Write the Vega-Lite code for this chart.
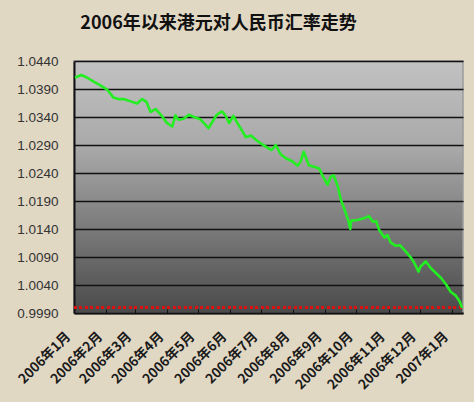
{
  "$schema": "https://vega.github.io/schema/vega-lite/v6.json",
  "width": 389,
  "height": 252,
  "autosize": "none",
  "padding": {"left": 74, "top": 61, "right": 11, "bottom": 89},
  "background": "#E1D8C4",
  "title": {
    "text": "2006年以来港元对人民币汇率走势",
    "font": "Noto Sans CJK SC",
    "fontSize": 18,
    "fontWeight": "bold",
    "color": "#111111",
    "anchor": "middle",
    "dx": -50,
    "offset": 21
  },
  "config": {
    "view": {
      "fill": {
        "gradient": "linear",
        "x1": 0, "y1": 0, "x2": 0, "y2": 1,
        "stops": [
          {"offset": 0, "color": "#C2C2C2"},
          {"offset": 0.35, "color": "#A8A8A8"},
          {"offset": 1, "color": "#4A4A4A"}
        ]
      },
      "stroke": "#9C9C9C",
      "strokeWidth": 1.5
    }
  },
  "data": {
    "values": [
      {"date": "2006-01-02", "rate": 1.0410},
      {"date": "2006-01-04", "rate": 1.0412},
      {"date": "2006-01-08", "rate": 1.0415},
      {"date": "2006-01-13", "rate": 1.0411},
      {"date": "2006-01-20", "rate": 1.0403},
      {"date": "2006-01-26", "rate": 1.0397},
      {"date": "2006-02-02", "rate": 1.0389},
      {"date": "2006-02-08", "rate": 1.0375},
      {"date": "2006-02-13", "rate": 1.0372},
      {"date": "2006-02-18", "rate": 1.0372},
      {"date": "2006-02-26", "rate": 1.0367},
      {"date": "2006-03-03", "rate": 1.0364},
      {"date": "2006-03-08", "rate": 1.0372},
      {"date": "2006-03-12", "rate": 1.0367},
      {"date": "2006-03-16", "rate": 1.0349},
      {"date": "2006-03-21", "rate": 1.0354},
      {"date": "2006-03-26", "rate": 1.0344},
      {"date": "2006-04-01", "rate": 1.0329},
      {"date": "2006-04-06", "rate": 1.0323},
      {"date": "2006-04-09", "rate": 1.0343},
      {"date": "2006-04-12", "rate": 1.0335},
      {"date": "2006-04-17", "rate": 1.0337},
      {"date": "2006-04-22", "rate": 1.0344},
      {"date": "2006-04-27", "rate": 1.0340},
      {"date": "2006-05-03", "rate": 1.0336},
      {"date": "2006-05-11", "rate": 1.0320},
      {"date": "2006-05-15", "rate": 1.0332},
      {"date": "2006-05-19", "rate": 1.0344},
      {"date": "2006-05-24", "rate": 1.0350},
      {"date": "2006-05-27", "rate": 1.0344},
      {"date": "2006-05-31", "rate": 1.0329},
      {"date": "2006-06-04", "rate": 1.0342},
      {"date": "2006-06-08", "rate": 1.0329},
      {"date": "2006-06-11", "rate": 1.0320},
      {"date": "2006-06-16", "rate": 1.0304},
      {"date": "2006-06-21", "rate": 1.0307},
      {"date": "2006-06-26", "rate": 1.0299},
      {"date": "2006-07-02", "rate": 1.0291},
      {"date": "2006-07-08", "rate": 1.0284},
      {"date": "2006-07-11", "rate": 1.0281},
      {"date": "2006-07-15", "rate": 1.0290},
      {"date": "2006-07-20", "rate": 1.0273},
      {"date": "2006-07-25", "rate": 1.0266},
      {"date": "2006-07-31", "rate": 1.0261},
      {"date": "2006-08-05", "rate": 1.0253},
      {"date": "2006-08-08", "rate": 1.0260},
      {"date": "2006-08-11", "rate": 1.0278},
      {"date": "2006-08-16", "rate": 1.0254},
      {"date": "2006-08-21", "rate": 1.0251},
      {"date": "2006-08-26", "rate": 1.0248},
      {"date": "2006-08-29", "rate": 1.0236},
      {"date": "2006-09-03", "rate": 1.0219},
      {"date": "2006-09-06", "rate": 1.0233},
      {"date": "2006-09-09", "rate": 1.0236},
      {"date": "2006-09-13", "rate": 1.0216},
      {"date": "2006-09-16", "rate": 1.0192},
      {"date": "2006-09-19", "rate": 1.0177},
      {"date": "2006-09-23", "rate": 1.0156},
      {"date": "2006-09-25", "rate": 1.0140},
      {"date": "2006-09-26", "rate": 1.0155},
      {"date": "2006-10-02", "rate": 1.0156},
      {"date": "2006-10-08", "rate": 1.0159},
      {"date": "2006-10-13", "rate": 1.0163},
      {"date": "2006-10-17", "rate": 1.0153},
      {"date": "2006-10-20", "rate": 1.0154},
      {"date": "2006-10-23", "rate": 1.0138},
      {"date": "2006-10-28", "rate": 1.0125},
      {"date": "2006-10-31", "rate": 1.0129},
      {"date": "2006-11-03", "rate": 1.0116},
      {"date": "2006-11-08", "rate": 1.0110},
      {"date": "2006-11-12", "rate": 1.0111},
      {"date": "2006-11-18", "rate": 1.0099},
      {"date": "2006-11-23", "rate": 1.0088},
      {"date": "2006-11-26", "rate": 1.0079},
      {"date": "2006-11-30", "rate": 1.0064},
      {"date": "2006-12-02", "rate": 1.0073},
      {"date": "2006-12-07", "rate": 1.0082},
      {"date": "2006-12-12", "rate": 1.0070},
      {"date": "2006-12-17", "rate": 1.0061},
      {"date": "2006-12-22", "rate": 1.0052},
      {"date": "2006-12-27", "rate": 1.0040},
      {"date": "2006-12-31", "rate": 1.0028},
      {"date": "2007-01-05", "rate": 1.0021},
      {"date": "2007-01-09", "rate": 1.0010},
      {"date": "2007-01-11", "rate": 0.9999}
    ]
  },
  "encoding": {
    "x": {
      "field": "date",
      "type": "temporal",
      "title": null,
      "scale": {
        "type": "utc",
        "domain": [
          {"year": 2006, "month": 1, "date": 1, "utc": true},
          {"year": 2007, "month": 1, "date": 12, "utc": true}
        ]
      },
      "axis": {
        "values": [
          {"year": 2006, "month": 1, "date": 1, "utc": true},
          {"year": 2006, "month": 2, "date": 1, "utc": true},
          {"year": 2006, "month": 3, "date": 1, "utc": true},
          {"year": 2006, "month": 4, "date": 1, "utc": true},
          {"year": 2006, "month": 5, "date": 1, "utc": true},
          {"year": 2006, "month": 6, "date": 1, "utc": true},
          {"year": 2006, "month": 7, "date": 1, "utc": true},
          {"year": 2006, "month": 8, "date": 1, "utc": true},
          {"year": 2006, "month": 9, "date": 1, "utc": true},
          {"year": 2006, "month": 10, "date": 1, "utc": true},
          {"year": 2006, "month": 11, "date": 1, "utc": true},
          {"year": 2006, "month": 12, "date": 1, "utc": true},
          {"year": 2007, "month": 1, "date": 1, "utc": true}
        ],
        "format": "%Y年%-m月",
        "labelAngle": -45,
        "labelAlign": "right",
        "labelBaseline": "middle",
        "labelFont": "Noto Sans CJK SC",
        "labelFontSize": 13.5,
        "labelFontWeight": "bold",
        "labelColor": "#1A1A1A",
        "labelPadding": 25,
        "labelOffset": -6,
        "labelOverlap": false,
        "labelBound": false,
        "labelFlush": false,
        "tickSize": -4,
        "tickColor": "#111111",
        "tickWidth": 1,
        "domainColor": "#111111",
        "domainWidth": 2,
        "grid": false
      }
    },
    "y": {
      "field": "rate",
      "type": "quantitative",
      "title": null,
      "scale": {"domain": [0.999, 1.044], "nice": false, "zero": false},
      "axis": {
        "values": [0.999, 1.004, 1.009, 1.014, 1.019, 1.024, 1.029, 1.034, 1.039, 1.044],
        "format": ".4f",
        "labelFont": "Liberation Sans",
        "labelFontSize": 13.5,
        "labelColor": "#333333",
        "labelPadding": 16,
        "ticks": false,
        "domainColor": "#111111",
        "domainWidth": 2,
        "grid": true,
        "gridColor": "#111111",
        "gridWidth": 1.6
      }
    }
  },
  "layer": [
    {
      "mark": {"type": "rule", "color": "#E01010", "strokeWidth": 2.5, "strokeDash": [2.5, 3]},
      "encoding": {"y": {"datum": 1.0}, "x": {"value": 0}, "x2": {"value": 389}}
    },
    {
      "mark": {"type": "line", "color": "#22EE22", "strokeWidth": 2.6, "strokeJoin": "round"}
    }
  ]
}
